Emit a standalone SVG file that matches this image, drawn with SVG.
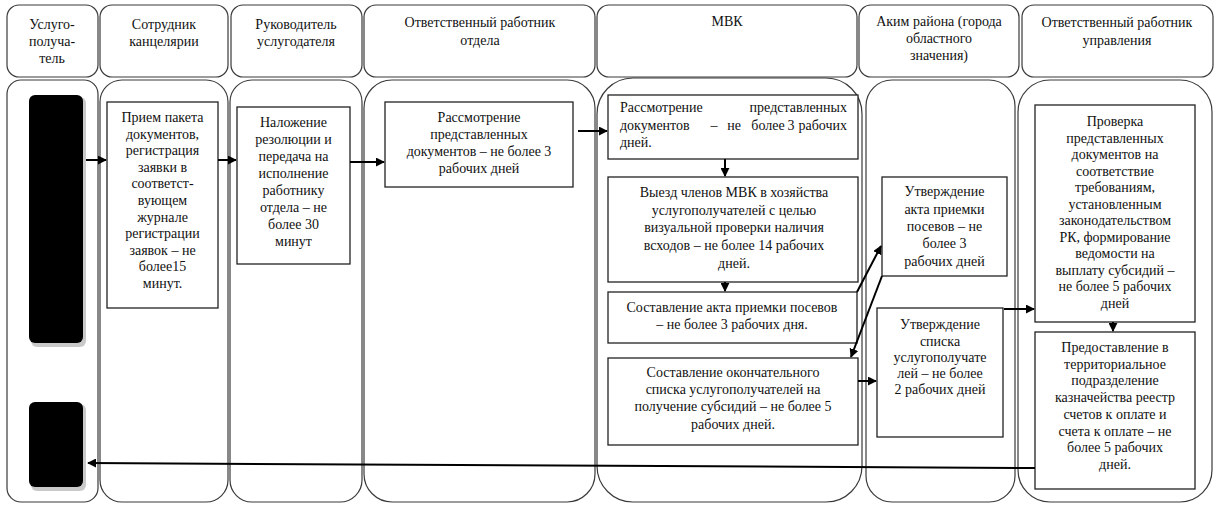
<svg xmlns="http://www.w3.org/2000/svg" width="1216" height="505" viewBox="0 0 1216 505" font-family="'Liberation Serif', 'Times New Roman', serif" font-size="14">
<defs>
<style>
.lane{fill:#fff;stroke:#3a3a3a;stroke-width:1.2}
.box{fill:#fff;stroke:#222;stroke-width:1.3}
text{font-family:"Liberation Serif",serif;font-size:14px;fill:#111}
.t{text-anchor:middle}
.c{stroke:#000;stroke-width:2;fill:none;marker-end:url(#ah)}
</style>
<marker id="ah" viewBox="0 0 10 10" refX="9" refY="5" markerWidth="4.5" markerHeight="4.5" orient="auto" markerUnits="strokeWidth">
<path d="M0,0 L10,5 L0,10 z" fill="#000"/>
</marker>
</defs>
<rect width="1216" height="505" fill="#fff"/>

<g id="headers">
<rect class="lane" x="7" y="5" width="91" height="72" rx="12"/>
<text class="t" x="52" y="29">Услуго-</text>
<text class="t" x="52" y="46">получа-</text>
<text class="t" x="52" y="63">тель</text>
<rect class="lane" x="100" y="5" width="128" height="72" rx="12"/>
<text class="t" x="164" y="29">Сотрудник</text>
<text class="t" x="164" y="46">канцелярии</text>
<rect class="lane" x="231" y="5" width="131" height="72" rx="12"/>
<text class="t" x="296" y="29">Руководитель</text>
<text class="t" x="296" y="46">услугодателя</text>
<rect class="lane" x="364" y="5" width="231" height="72" rx="12"/>
<text class="t" x="480" y="27">Ответственный работник</text>
<text class="t" x="480" y="45">отдела</text>
<rect class="lane" x="597" y="5" width="260" height="72" rx="12"/>
<text class="t" x="727" y="26">МВК</text>
<rect class="lane" x="859" y="5" width="160" height="72" rx="12"/>
<text class="t" x="939" y="26">Аким района (города</text>
<text class="t" x="939" y="43">областного</text>
<text class="t" x="939" y="60">значения)</text>
<rect class="lane" x="1022" y="5" width="191" height="72" rx="12"/>
<text class="t" x="1117" y="27">Ответственный работник</text>
<text class="t" x="1117" y="45">управления</text>
</g>

<g id="lanes">
<rect class="lane" x="7" y="80" width="91" height="422" rx="14"/>
<rect class="lane" x="100" y="80" width="128" height="422" rx="22"/>
<rect class="lane" x="230" y="80" width="132" height="422" rx="22"/>
<rect class="lane" x="364" y="80" width="231" height="422" rx="28"/>
<rect class="lane" x="597" y="78" width="265" height="424" rx="36"/>
<rect class="lane" x="866" y="80" width="149" height="422" rx="26"/>
<rect class="lane" x="1018" y="80" width="194" height="422" rx="32"/>
</g>

<g id="client-start">
<rect x="31" y="97" width="55" height="250" rx="6" fill="#c9c9c9"/>
<rect x="29" y="95" width="54" height="248" rx="6" fill="#000"/>
</g>
<g id="client-end">
<rect x="31" y="404" width="55" height="87" rx="6" fill="#c9c9c9"/>
<rect x="29" y="402" width="54" height="85" rx="6" fill="#000"/>
</g>

<g id="n-priem">
<rect class="box" x="107" y="102" width="111" height="206"/>
<text class="t" x="162.5" y="122">Прием пакета</text>
<text class="t" x="162.5" y="138.6">документов,</text>
<text class="t" x="162.5" y="155.2">регистрация</text>
<text class="t" x="162.5" y="171.8">заявки в</text>
<text class="t" x="162.5" y="188.4">соответст-</text>
<text class="t" x="162.5" y="205">вующем</text>
<text class="t" x="162.5" y="221.6">журнале</text>
<text class="t" x="162.5" y="238.2">регистрации</text>
<text class="t" x="162.5" y="254.8">заявок –  не</text>
<text class="t" x="162.5" y="271.4">более15</text>
<text class="t" x="162.5" y="288">минут.</text>
</g>

<g id="n-nalozhenie">
<rect class="box" x="237" y="107" width="113" height="157"/>
<text class="t" x="293.5" y="127">Наложение</text>
<text class="t" x="293.5" y="144">резолюции и</text>
<text class="t" x="293.5" y="161">передача на</text>
<text class="t" x="293.5" y="178">исполнение</text>
<text class="t" x="293.5" y="195">работнику</text>
<text class="t" x="293.5" y="212">отдела – не</text>
<text class="t" x="293.5" y="229">более 30</text>
<text class="t" x="293.5" y="246">минут</text>
</g>

<g id="n-rassm-otdel">
<rect class="box" x="385" y="102" width="188" height="85"/>
<text class="t" x="479" y="122">Рассмотрение</text>
<text class="t" x="479" y="139">представленных</text>
<text class="t" x="479" y="156">документов – не более 3</text>
<text class="t" x="479" y="173">рабочих дней</text>
</g>

<g id="n-rassm-mvk">
<rect class="box" x="608" y="95" width="250" height="64"/>
<text x="620" y="112">Рассмотрение</text>
<text x="847" y="112" text-anchor="end">представленных</text>
<text x="620" y="129.5">документов</text>
<text x="714" y="129.5" text-anchor="middle">–</text>
<text x="734" y="129.5" text-anchor="middle">не</text>
<text x="768" y="129.5" text-anchor="middle">более</text>
<text x="791" y="129.5" text-anchor="middle">3</text>
<text x="847" y="129.5" text-anchor="end">рабочих</text>
<text x="620" y="147">дней.</text>
</g>

<g id="n-vyezd">
<rect class="box" x="608" y="177" width="250" height="105"/>
<text class="t" x="734" y="197">Выезд членов МВК в хозяйства</text>
<text class="t" x="734" y="214.5">услугополучателей с целью</text>
<text class="t" x="734" y="232">визуальной проверки наличия</text>
<text class="t" x="734" y="249.5">всходов – не более 14 рабочих</text>
<text class="t" x="734" y="268">дней.</text>
</g>

<g id="n-akt">
<rect class="box" x="608" y="292" width="249" height="51"/>
<text class="t" x="732" y="312">Составление акта приемки посевов</text>
<text class="t" x="732" y="329">–  не более 3 рабочих дня.</text>
</g>

<g id="n-spisok">
<rect class="box" x="608" y="358" width="250" height="87"/>
<text class="t" x="733" y="377">Составление окончательного</text>
<text class="t" x="733" y="394">списка услугополучателей на</text>
<text class="t" x="733" y="411">получение субсидий – не более 5</text>
<text class="t" x="733" y="429">рабочих дней.</text>
</g>

<g id="n-utv-akt">
<rect class="box" x="882" y="177" width="125" height="99"/>
<text class="t" x="944.5" y="196">Утверждение</text>
<text class="t" x="944.5" y="213.5">акта приемки</text>
<text class="t" x="944.5" y="231">посевов – не</text>
<text class="t" x="944.5" y="248">более 3</text>
<text class="t" x="944.5" y="266">рабочих дней</text>
</g>

<g id="n-utv-spisok">
<rect class="box" x="877" y="308" width="126" height="129"/>
<text class="t" x="940" y="329">Утверждение</text>
<text class="t" x="940" y="345.5">списка</text>
<text class="t" x="940" y="362">услугополучате</text>
<text class="t" x="940" y="378">лей – не более</text>
<text class="t" x="940" y="394">2 рабочих дней</text>
</g>

<g id="n-proverka">
<rect class="box" x="1035" y="105" width="160" height="217"/>
<text class="t" x="1115" y="126">Проверка</text>
<text class="t" x="1115" y="142.5">представленных</text>
<text class="t" x="1115" y="159">документов на</text>
<text class="t" x="1115" y="175.5">соответствие</text>
<text class="t" x="1115" y="192">требованиям,</text>
<text class="t" x="1115" y="208.5">установленным</text>
<text class="t" x="1115" y="225">законодательством</text>
<text class="t" x="1115" y="241.5">РК, формирование</text>
<text class="t" x="1115" y="258">ведомости на</text>
<text class="t" x="1115" y="274.5">выплату субсидий –</text>
<text class="t" x="1115" y="291">не более  5 рабочих</text>
<text class="t" x="1115" y="307.5">дней</text>
</g>

<g id="n-predost">
<rect class="box" x="1035" y="332" width="160" height="157"/>
<text class="t" x="1115" y="352">Предоставление в</text>
<text class="t" x="1115" y="368.7">территориальное</text>
<text class="t" x="1115" y="385.4">подразделение</text>
<text class="t" x="1115" y="402.1">казначейства реестр</text>
<text class="t" x="1115" y="418.8">счетов к оплате и</text>
<text class="t" x="1115" y="435.5">счета к оплате – не</text>
<text class="t" x="1115" y="452.2">более 5 рабочих</text>
<text class="t" x="1115" y="468.9">дней.</text>
</g>

<g id="connectors">
<line class="c" x1="86" y1="160" x2="106" y2="160"/>
<line class="c" x1="218" y1="160" x2="236" y2="160"/>
<line class="c" x1="350" y1="162" x2="384" y2="162"/>
<line class="c" x1="578" y1="131" x2="607" y2="131"/>
<line class="c" x1="725" y1="159" x2="725" y2="176"/>
<line class="c" x1="725" y1="282" x2="725" y2="291"/>
<line class="c" x1="857" y1="292" x2="881" y2="246"/>
<line class="c" x1="882" y1="276" x2="851" y2="357"/>
<line class="c" x1="858" y1="381" x2="876" y2="381"/>
<line class="c" x1="1004" y1="309" x2="1034" y2="309"/>
<line class="c" x1="1113" y1="322" x2="1113" y2="331"/>
<line class="c" x1="1035" y1="468" x2="88" y2="463"/>
</g>
</svg>
